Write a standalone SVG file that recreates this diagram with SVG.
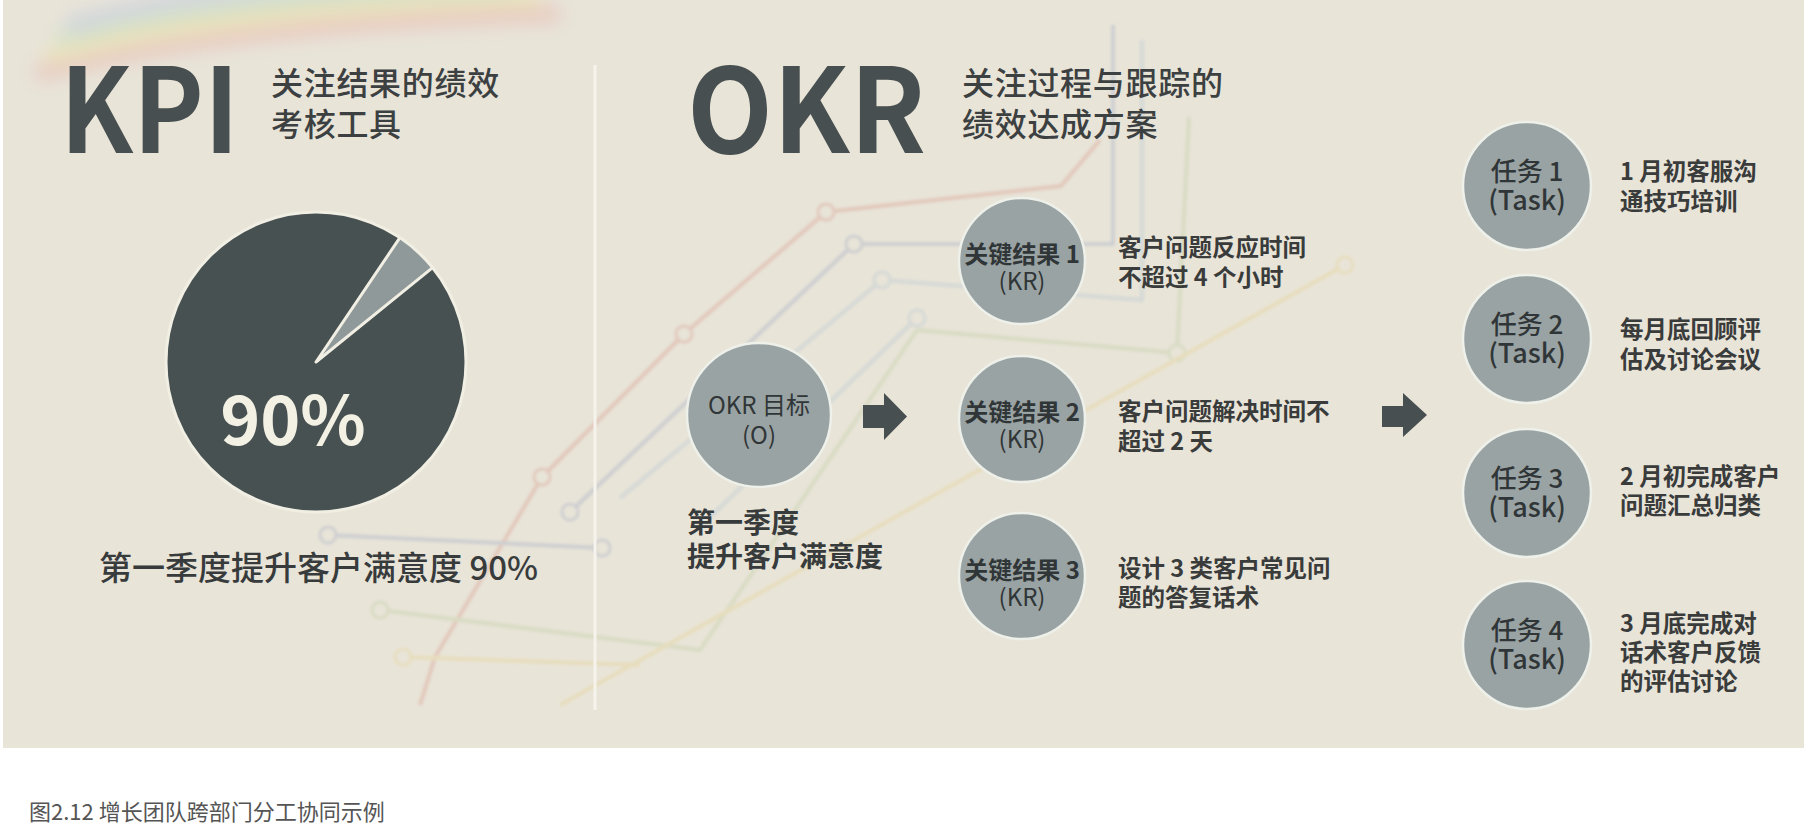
<svg xmlns="http://www.w3.org/2000/svg" width="1804" height="826" viewBox="0 0 1804 826">
  <style>
    text { font-family: "Noto Sans CJK SC", "Noto Sans", "Liberation Sans", sans-serif; }
    .big { font-weight: bold; fill: #474f50; }
    .sub { font-size: 32px; fill: #3c4041; letter-spacing: 0.7px; font-weight: 500; }
    .node circle { fill: #9aa3a4; stroke: #eef0ea; stroke-width: 2.5; }
    .lbl { font-size: 24px; fill: #303637; text-anchor: middle; }
    .kr { font-weight: bold; }
    .tl { font-size: 26px; fill: #303637; text-anchor: middle; font-weight: 500; }
    .desc { font-size: 23.5px; fill: #3a3b3b; font-weight: bold; }
    .deco path { fill: none; stroke-width: 4; stroke-linejoin: round; }
    .deco circle { fill: #e8e4d8; stroke-width: 3; }
    .arrow { fill: #474f50; }
  </style>
  <defs>
    <filter id="soft" x="-10%" y="-10%" width="120%" height="120%">
      <feGaussianBlur stdDeviation="1.6"/>
    </filter>
    <filter id="haze" x="-20%" y="-80%" width="140%" height="260%">
      <feGaussianBlur stdDeviation="9"/>
    </filter>
  </defs>

  <!-- page -->
  <rect x="0" y="0" width="1804" height="826" fill="#ffffff"/>
  <rect x="3" y="0" width="1801" height="748" fill="#e8e4d8"/>

  <!-- top rainbow haze -->
  <g id="rainbow" filter="url(#haze)" opacity="0.45">
    <path d="M36 74 Q220 24 560 14" stroke="#e9a7a4" stroke-width="16" fill="none"/>
    <path d="M46 58 Q220 10 540 0" stroke="#efe09a" stroke-width="16" fill="none"/>
    <path d="M56 42 Q220 -4 520 -12" stroke="#bfe0b0" stroke-width="16" fill="none"/>
    <path d="M66 26 Q220 -18 500 -24" stroke="#b4c2e2" stroke-width="16" fill="none"/>
  </g>

  <!-- faint background chart -->
  <g class="deco" id="background-chart" filter="url(#soft)" opacity="0.38">
    <g stroke="#d99a8c">
      <path d="M420 705 L435 657 L542 477 L684 334 L826 212 L1061 186 L1100 140"/>
      <circle cx="542" cy="477" r="8"/><circle cx="684" cy="334" r="8"/><circle cx="826" cy="212" r="8"/>
    </g>
    <g stroke="#a2abc4">
      <path d="M328 535 L602 548"/>
      <path d="M570 512 L854 244 L1113 244 L1113 25"/>
      <circle cx="328" cy="535" r="8"/><circle cx="602" cy="548" r="8"/><circle cx="570" cy="512" r="8"/><circle cx="854" cy="244" r="8"/>
    </g>
    <g stroke="#b4c6d2">
      <path d="M620 498 L882 280 L1142 300 L1142 40"/>
      <path d="M707 520 L917 318"/>
      <circle cx="882" cy="280" r="8"/><circle cx="917" cy="318" r="8"/>
    </g>
    <g stroke="#bfcea2">
      <path d="M380 610 L700 650 L917 330 L1177 353 L1189 117"/>
      <circle cx="380" cy="610" r="8"/><circle cx="1177" cy="353" r="8"/>
    </g>
    <g stroke="#e6d291">
      <path d="M403 657 L640 665"/>
      <path d="M560 705 L1345 265"/>
      <circle cx="403" cy="657" r="8"/><circle cx="1345" cy="265" r="8"/>
    </g>
  </g>

  <!-- KPI section -->
  <g id="kpi-title">
    <text class="big" x="60" y="153" font-size="117" textLength="179" lengthAdjust="spacingAndGlyphs">KPI</text>
    <text class="sub" x="271" y="95">关注结果的绩效<tspan x="271" dy="41">考核工具</tspan></text>
  </g>

  <g id="kpi-pie">
    <circle cx="316" cy="362" r="150" fill="#485152" stroke="#f1efe4" stroke-width="3"/>
    <path d="M316 362 L399.9 237.6 A150 150 0 0 1 432.6 267.6 Z" fill="#8f999a" stroke="#f1efe4" stroke-width="3" stroke-linejoin="round"/>
    <text x="293" y="445" font-size="68" font-weight="bold" fill="#f3f1e4" text-anchor="middle">90%</text>
  </g>

  <g id="kpi-caption">
    <text x="99" y="580" font-size="33" fill="#383b3c" font-weight="500">第一季度提升客户满意度 90%</text>
  </g>

  <!-- divider -->
  <line id="divider" x1="595" y1="65" x2="595" y2="710" stroke="#f5f3eb" stroke-width="3"/>

  <!-- OKR section -->
  <g id="okr-title">
    <text class="big" x="687" y="153" font-size="117" textLength="239" lengthAdjust="spacingAndGlyphs">OKR</text>
    <text class="sub" x="962" y="95">关注过程与跟踪的<tspan x="962" dy="41">绩效达成方案</tspan></text>
  </g>

  <g id="okr-objective" class="node">
    <circle cx="759" cy="415" r="72"/>
    <text class="lbl" x="759" y="414" font-size="26">OKR 目标<tspan x="759" dy="30">(O)</tspan></text>
    <text x="687" y="533" font-size="28" fill="#383b3c" font-weight="bold">第一季度<tspan x="687" dy="34">提升客户满意度</tspan></text>
  </g>

  <g id="kr1" class="node">
    <circle cx="1022" cy="261" r="63"/>
    <text class="lbl" x="1022" y="263"><tspan class="kr">关键结果 1</tspan><tspan x="1022" dy="27">(KR)</tspan></text>
    <text class="desc" x="1118" y="256">客户问题反应时间<tspan x="1118" dy="30">不超过 4 个小时</tspan></text>
  </g>

  <g id="kr2" class="node">
    <circle cx="1022" cy="419" r="63"/>
    <text class="lbl" x="1022" y="421"><tspan class="kr">关键结果 2</tspan><tspan x="1022" dy="27">(KR)</tspan></text>
    <text class="desc" x="1118" y="420">客户问题解决时间不<tspan x="1118" dy="30">超过 2 天</tspan></text>
  </g>

  <g id="kr3" class="node">
    <circle cx="1022" cy="576" r="63"/>
    <text class="lbl" x="1022" y="579"><tspan class="kr">关键结果 3</tspan><tspan x="1022" dy="27">(KR)</tspan></text>
    <text class="desc" x="1118" y="577">设计 3 类客户常见问<tspan x="1118" dy="29">题的答复话术</tspan></text>
  </g>

  <g id="task1" class="node">
    <circle cx="1527" cy="186" r="64"/>
    <text class="tl" x="1527" y="181">任务 1<tspan x="1527" dy="29" font-size="27">(Task)</tspan></text>
    <text class="desc" x="1620" y="180">1 月初客服沟<tspan x="1620" dy="30">通技巧培训</tspan></text>
  </g>

  <g id="task2" class="node">
    <circle cx="1527" cy="339" r="64"/>
    <text class="tl" x="1527" y="334">任务 2<tspan x="1527" dy="29" font-size="27">(Task)</tspan></text>
    <text class="desc" x="1620" y="338">每月底回顾评<tspan x="1620" dy="30">估及讨论会议</tspan></text>
  </g>

  <g id="task3" class="node">
    <circle cx="1527" cy="493" r="64"/>
    <text class="tl" x="1527" y="488">任务 3<tspan x="1527" dy="29" font-size="27">(Task)</tspan></text>
    <text class="desc" x="1620" y="485">2 月初完成客户<tspan x="1620" dy="29">问题汇总归类</tspan></text>
  </g>

  <g id="task4" class="node">
    <circle cx="1527" cy="645" r="64"/>
    <text class="tl" x="1527" y="640">任务 4<tspan x="1527" dy="29" font-size="27">(Task)</tspan></text>
    <text class="desc" x="1620" y="632">3 月底完成对<tspan x="1620" dy="29">话术客户反馈</tspan><tspan x="1620" dy="29">的评估讨论</tspan></text>
  </g>

  <!-- connectors -->
  <g id="connectors">
    <path class="arrow" d="M863 405 L884 405 L884 393 L907 416.5 L884 440 L884 428 L863 428 Z"/>
    <path class="arrow" d="M1382 406 L1403 406 L1403 393 L1427 415 L1403 437 L1403 427 L1382 427 Z"/>
  </g>

  <!-- figure caption -->
  <text id="caption" x="29" y="820" font-size="22" fill="#555555">图2.12 增长团队跨部门分工协同示例</text>
</svg>
